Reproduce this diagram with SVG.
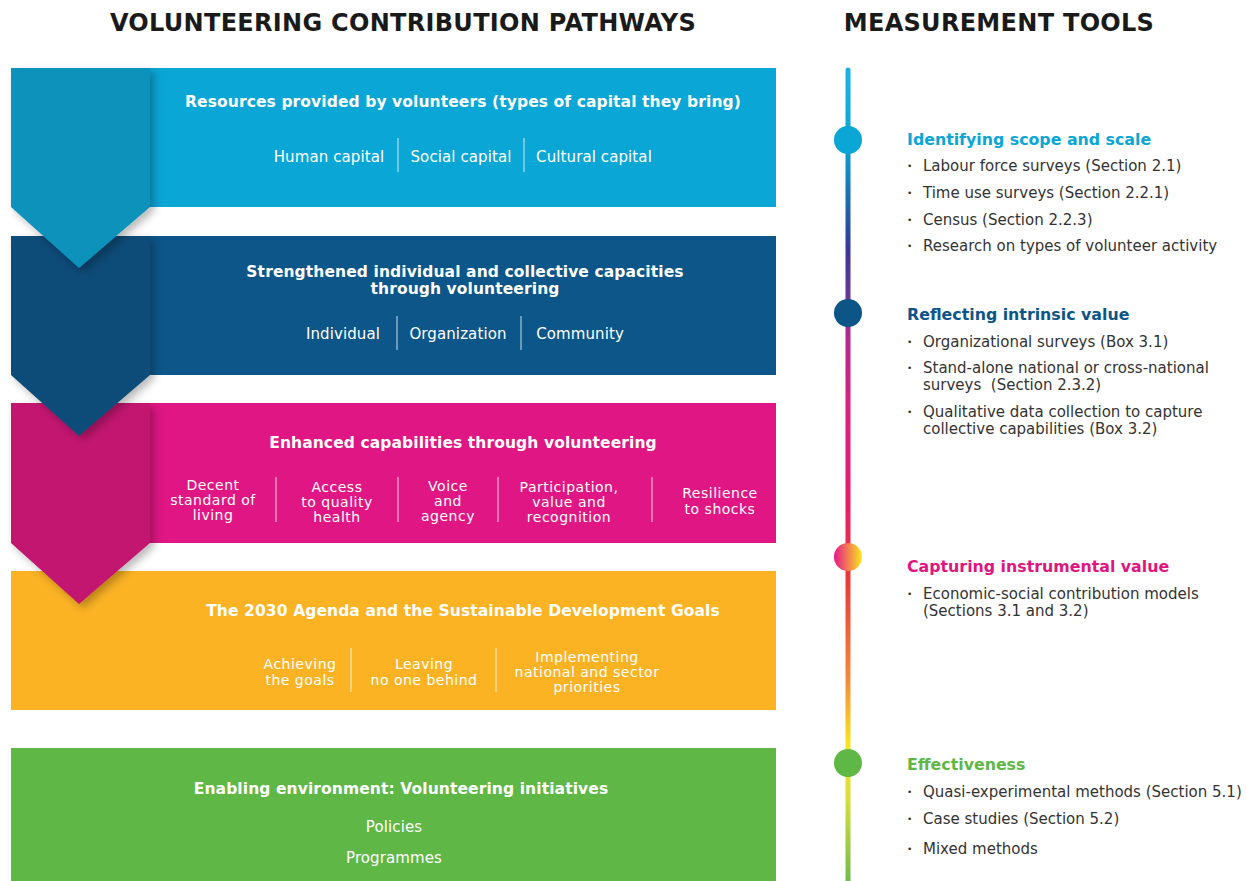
<svg xmlns="http://www.w3.org/2000/svg" width="1247" height="881" viewBox="0 0 1247 881">
<defs>
<filter id="sh" x="-20%" y="-20%" width="150%" height="150%">
<feDropShadow dx="4" dy="4" stdDeviation="4" flood-color="#000" flood-opacity="0.28"/>
</filter>
<linearGradient id="tl" x1="0" y1="68" x2="0" y2="881" gradientUnits="userSpaceOnUse">
<stop offset="0" stop-color="#1ab4e4"/>
<stop offset="0.09" stop-color="#0aa6d6"/>
<stop offset="0.16" stop-color="#1a6fb0"/>
<stop offset="0.22" stop-color="#35399a"/>
<stop offset="0.28" stop-color="#6b3593"/>
<stop offset="0.33" stop-color="#b02a8d"/>
<stop offset="0.41" stop-color="#d81f84"/>
<stop offset="0.53" stop-color="#e81a6a"/>
<stop offset="0.63" stop-color="#ea3a38"/>
<stop offset="0.75" stop-color="#f18a3b"/>
<stop offset="0.83" stop-color="#fbe21f"/>
<stop offset="0.90" stop-color="#d6de3a"/>
<stop offset="1" stop-color="#72bb4c"/>
</linearGradient>
<linearGradient id="cg" x1="0" y1="0" x2="1" y2="0">
<stop offset="0" stop-color="#e8158a"/>
<stop offset="1" stop-color="#fbe81c"/>
</linearGradient>
<style>
.h{font-family:"DejaVu Sans","Open Sans",sans-serif;font-weight:700;font-size:24px;fill:#1a1a1a;letter-spacing:0.3px}
.t{font-family:"DejaVu Sans","Open Sans",sans-serif;font-weight:700;font-size:15.5px;fill:#fff;text-anchor:middle;letter-spacing:0.1px}
.i{font-family:"DejaVu Sans","Open Sans",sans-serif;font-size:15px;fill:#fff;text-anchor:middle;letter-spacing:0.1px}
.s{font-family:"DejaVu Sans","Open Sans",sans-serif;font-size:14px;fill:#fff;text-anchor:middle;letter-spacing:0.5px}
.sep{stroke:#fff;stroke-opacity:0.8;stroke-width:1}
.mh{font-family:"DejaVu Sans","Open Sans",sans-serif;font-weight:700;font-size:15.8px}
.b{font-family:"DejaVu Sans","Open Sans",sans-serif;font-size:15px;fill:#333}
.d{font-family:"DejaVu Sans","Open Sans",sans-serif;font-size:9px;fill:#333}
</style>
</defs>
<rect width="1247" height="881" fill="#fff"/>
<text class="h" x="403" y="31" text-anchor="middle">VOLUNTEERING CONTRIBUTION PATHWAYS</text>
<text class="h" x="999" y="31" text-anchor="middle">MEASUREMENT TOOLS</text>

<g id="n5">
<rect x="11" y="748" width="765" height="133" fill="#5fb846"/>
<text class="t" x="401" y="794">Enabling environment: Volunteering initiatives</text>
<text class="i" x="394" y="832">Policies</text>
<text class="i" x="394" y="863">Programmes</text>
</g>

<g id="n4">
<rect x="11" y="571" width="765" height="139" fill="#fbb324"/>
<text class="t" x="463" y="616">The 2030 Agenda and the Sustainable Development Goals</text>
<text class="s" x="300" y="669">Achieving</text><text class="s" x="300" y="685">the goals</text>
<text class="s" x="424" y="669">Leaving</text><text class="s" x="424" y="685">no one behind</text>
<text class="s" x="587" y="662">Implementing</text><text class="s" x="587" y="677">national and sector</text><text class="s" x="587" y="692">priorities</text>
<line class="sep" x1="351" y1="648" x2="351" y2="692"/>
<line class="sep" x1="496" y1="648" x2="496" y2="692"/>
</g>

<g id="n3">
<rect x="11" y="403" width="765" height="140" fill="#df1683"/>
<polygon points="11,403 150,403 150,543 79,604 11,543" fill="#c3146f" filter="url(#sh)"/>
<text class="t" x="463" y="448">Enhanced capabilities through volunteering</text>
<text class="s" x="213" y="490">Decent</text><text class="s" x="213" y="505">standard of</text><text class="s" x="213" y="520">living</text>
<text class="s" x="337" y="492">Access</text><text class="s" x="337" y="507">to quality</text><text class="s" x="337" y="522">health</text>
<text class="s" x="448" y="491">Voice</text><text class="s" x="448" y="506">and</text><text class="s" x="448" y="521">agency</text>
<text class="s" x="569" y="492">Participation,</text><text class="s" x="569" y="507">value and</text><text class="s" x="569" y="522">recognition</text>
<text class="s" x="720" y="498">Resilience</text><text class="s" x="720" y="514">to shocks</text>
<line class="sep" x1="276" y1="477" x2="276" y2="522"/>
<line class="sep" x1="398" y1="477" x2="398" y2="522"/>
<line class="sep" x1="498" y1="477" x2="498" y2="522"/>
<line class="sep" x1="652" y1="477" x2="652" y2="522"/>
</g>

<g id="n2">
<rect x="11" y="236" width="765" height="139" fill="#0c5689"/>
<polygon points="11,236 150,236 150,375 79,436 11,375" fill="#0f4c78" filter="url(#sh)"/>
<text class="t" x="465" y="277">Strengthened individual and collective capacities</text>
<text class="t" x="465" y="294">through volunteering</text>
<text class="i" x="343" y="339">Individual</text>
<text class="i" x="458" y="339">Organization</text>
<text class="i" x="580" y="339">Community</text>
<line class="sep" x1="397" y1="316" x2="397" y2="350"/>
<line class="sep" x1="521" y1="316" x2="521" y2="350"/>
</g>

<g id="n1">
<rect x="11" y="68" width="765" height="139" fill="#0aa6d6"/>
<polygon points="11,68 150,68 150,207 79,268 11,207" fill="#0c92bb" filter="url(#sh)"/>
<text class="t" x="463" y="107">Resources provided by volunteers (types of capital they bring)</text>
<text class="i" x="329" y="162">Human capital</text>
<text class="i" x="461" y="162">Social capital</text>
<text class="i" x="594" y="162">Cultural capital</text>
<line class="sep" x1="398" y1="138" x2="398" y2="172"/>
<line class="sep" x1="524" y1="138" x2="524" y2="172"/>
</g>

<g id="connectors">
<path d="M848,70 V881" stroke="url(#tl)" stroke-width="5" stroke-linecap="round" fill="none"/>
</g>

<g id="m1">
<circle cx="848" cy="140" r="14" fill="#0aa6d6"/>
<text class="mh" x="907" y="145" fill="#0aa6d6">Identifying scope and scale</text>
<text class="d" x="907" y="169">•</text><text class="b" x="923" y="171">Labour force surveys (Section 2.1)</text>
<text class="d" x="907" y="196">•</text><text class="b" x="923" y="198">Time use surveys (Section 2.2.1)</text>
<text class="d" x="907" y="223">•</text><text class="b" x="923" y="225">Census (Section 2.2.3)</text>
<text class="d" x="907" y="249">•</text><text class="b" x="923" y="251">Research on types of volunteer activity</text>
</g>
<g id="m2">
<circle cx="848" cy="313" r="14" fill="#0d5487"/>
<text class="mh" x="907" y="320" fill="#0d5487">Reflecting intrinsic value</text>
<text class="d" x="907" y="345">•</text><text class="b" x="923" y="347">Organizational surveys (Box 3.1)</text>
<text class="d" x="907" y="371">•</text><text class="b" x="923" y="373">Stand-alone national or cross-national</text>
<text class="b" x="923" y="390" xml:space="preserve">surveys  (Section 2.3.2)</text>
<text class="d" x="907" y="415">•</text><text class="b" x="923" y="417">Qualitative data collection to capture</text>
<text class="b" x="923" y="434">collective capabilities (Box 3.2)</text>
</g>
<g id="m3">
<circle cx="848" cy="557" r="14" fill="url(#cg)"/>
<text class="mh" x="907" y="572" fill="#e0157f">Capturing instrumental value</text>
<text class="d" x="907" y="597">•</text><text class="b" x="923" y="599">Economic-social contribution models</text>
<text class="b" x="923" y="616">(Sections 3.1 and 3.2)</text>
</g>
<g id="m4">
<circle cx="848" cy="763" r="14" fill="#5fb846"/>
<text class="mh" x="907" y="770" fill="#5fb846">Effectiveness</text>
<text class="d" x="907" y="795">•</text><text class="b" x="923" y="797">Quasi-experimental methods (Section 5.1)</text>
<text class="d" x="907" y="822">•</text><text class="b" x="923" y="824">Case studies (Section 5.2)</text>
<text class="d" x="907" y="852">•</text><text class="b" x="923" y="854">Mixed methods</text>
</g>
</svg>
